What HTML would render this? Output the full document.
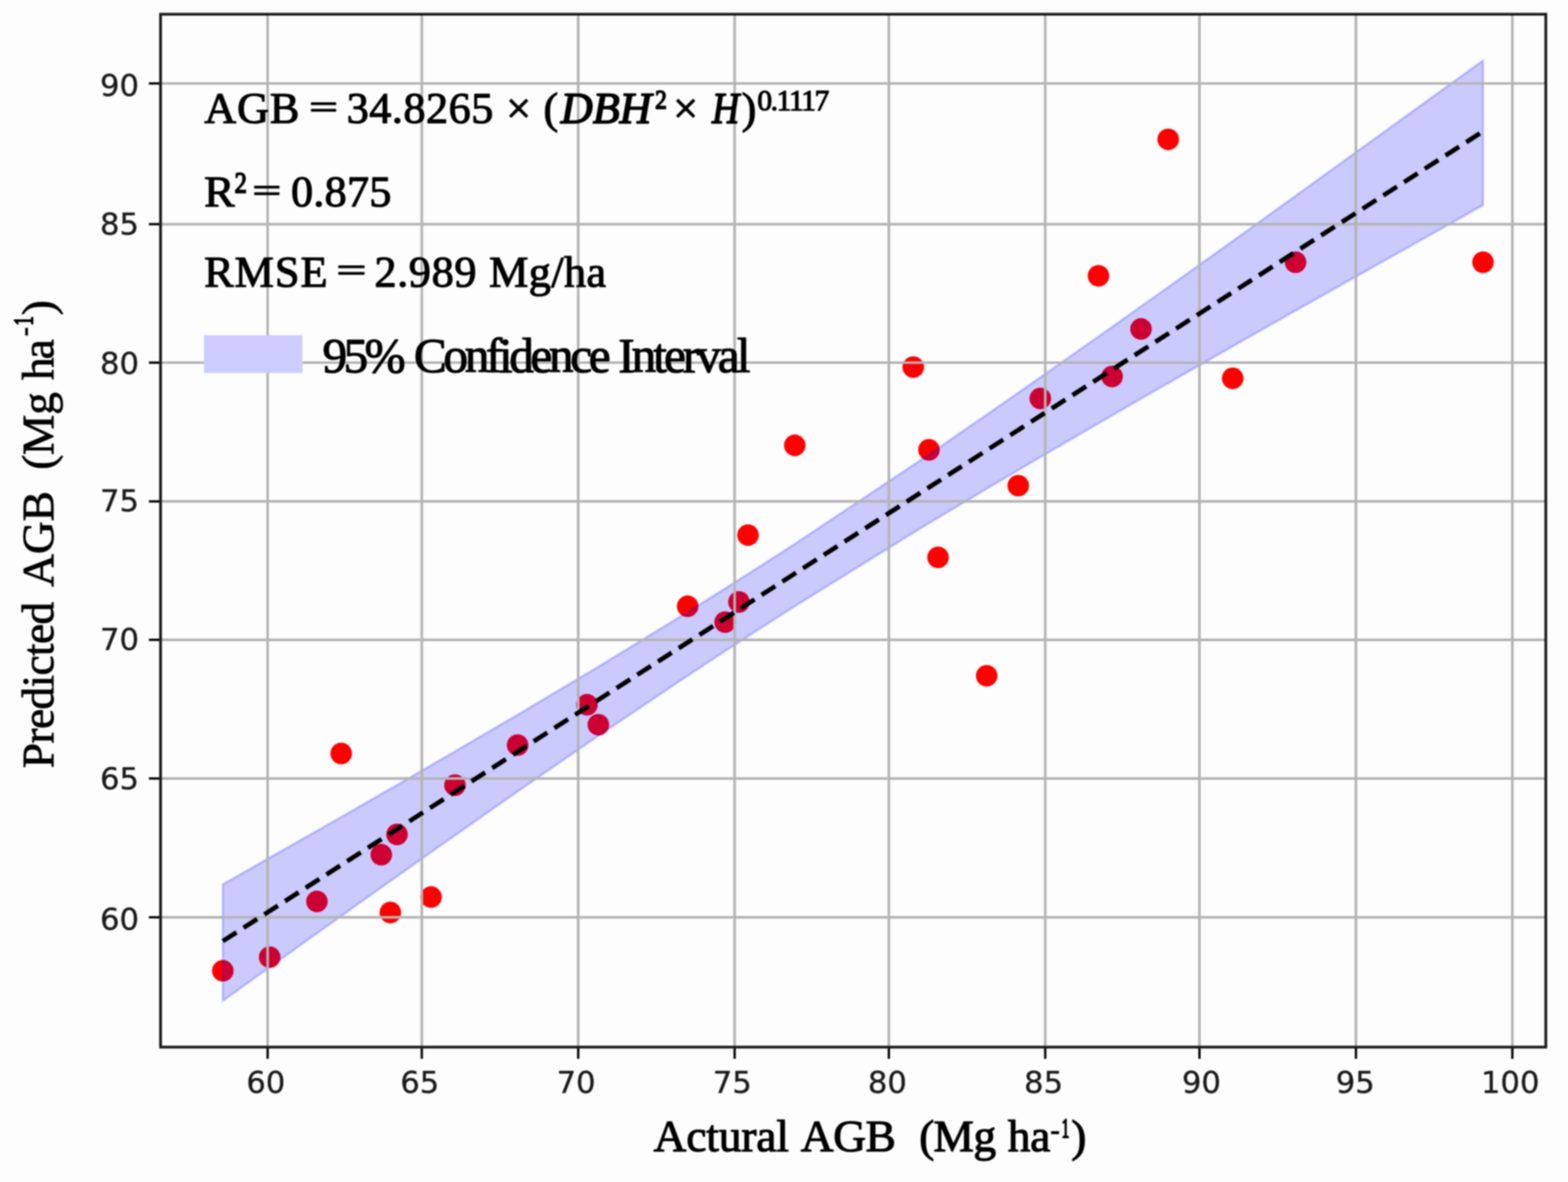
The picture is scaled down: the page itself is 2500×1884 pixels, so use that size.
<!DOCTYPE html>
<html lang="en">
<head>
<meta charset="utf-8">
<title>Predicted vs Actual AGB</title>
<style>
html,body{margin:0;padding:0;background:#fdfdfd;}
body{width:2500px;height:1884px;overflow:hidden;}
svg{display:block;}
.tk{font-family:"DejaVu Sans","Liberation Sans",sans-serif;font-size:48.8px;fill:#1a1a1a;stroke:#1a1a1a;stroke-width:0.5px;}
.sf{font-family:"Liberation Serif","DejaVu Serif",serif;fill:#000;stroke:#000;stroke-width:1.7px;stroke-linejoin:round;}
</style>
</head>
<body>
<svg width="2500" height="1884" viewBox="0 0 2500 1884" style="filter:blur(1.2px)">
<rect x="0" y="0" width="2500" height="1884" fill="#fdfdfd"/>
<g fill="#ff0000">
<circle cx="355.3" cy="1547.3" r="17.20"/>
<circle cx="430.0" cy="1525.6" r="17.20"/>
<circle cx="505.3" cy="1436.8" r="17.20"/>
<circle cx="544.0" cy="1201.0" r="17.20"/>
<circle cx="607.9" cy="1362.3" r="17.20"/>
<circle cx="633.0" cy="1330.0" r="17.20"/>
<circle cx="622.4" cy="1454.5" r="17.20"/>
<circle cx="687.3" cy="1429.8" r="17.20"/>
<circle cx="725.4" cy="1251.5" r="17.20"/>
<circle cx="825.3" cy="1187.6" r="17.20"/>
<circle cx="935.9" cy="1123.3" r="17.20"/>
<circle cx="954.0" cy="1155.2" r="17.20"/>
<circle cx="1096.4" cy="966.3" r="17.20"/>
<circle cx="1156.1" cy="991.6" r="17.20"/>
<circle cx="1178.2" cy="959.5" r="17.20"/>
<circle cx="1192.6" cy="852.9" r="17.20"/>
<circle cx="1267.2" cy="709.8" r="17.20"/>
<circle cx="1456.1" cy="585.2" r="17.20"/>
<circle cx="1481.1" cy="717.0" r="17.20"/>
<circle cx="1495.6" cy="888.4" r="17.20"/>
<circle cx="1573.2" cy="1077.1" r="17.20"/>
<circle cx="1623.5" cy="774.1" r="17.20"/>
<circle cx="1658.7" cy="635.2" r="17.20"/>
<circle cx="1751.4" cy="439.7" r="17.20"/>
<circle cx="1773.1" cy="600.1" r="17.20"/>
<circle cx="1819.2" cy="524.3" r="17.20"/>
<circle cx="1862.6" cy="222.2" r="17.20"/>
<circle cx="1965.4" cy="603.0" r="17.20"/>
<circle cx="2065.6" cy="418.0" r="17.20"/>
<circle cx="2364.5" cy="418.0" r="17.20"/>
</g>
<polygon points="355.3,1409.5 430.0,1367.1 505.3,1324.3 544.0,1302.2 607.9,1265.6 622.4,1257.3 633.0,1251.2 687.3,1219.8 725.4,1197.7 825.3,1139.3 935.9,1073.5 954.0,1062.7 1096.4,975.5 1156.1,938.1 1178.2,924.1 1192.6,914.9 1267.2,866.9 1456.1,741.3 1481.1,724.3 1495.6,714.4 1573.2,661.0 1623.5,626.1 1658.7,601.5 1751.4,536.4 1773.1,521.1 1819.2,488.4 1862.6,457.6 1965.4,384.2 2065.6,312.3 2364.5,96.5 2364.5,326.9 2065.6,495.1 1965.4,551.9 1862.6,610.6 1819.2,635.5 1773.1,662.1 1751.4,674.7 1658.7,728.6 1623.5,749.3 1573.2,779.0 1495.6,825.3 1481.1,834.0 1456.1,849.1 1267.2,966.2 1192.6,1014.0 1178.2,1023.4 1156.1,1037.8 1096.4,1077.0 954.0,1172.8 935.9,1185.2 825.3,1261.5 725.4,1331.5 687.3,1358.3 633.0,1396.7 622.4,1404.2 607.9,1414.5 544.0,1460.0 505.3,1487.6 430.0,1541.6 355.3,1595.2" fill="#0000ff" fill-opacity="0.2" stroke="#0000ff" stroke-opacity="0.2" stroke-width="3.6" stroke-linejoin="miter"/>
<g stroke="#b4b4b4" stroke-width="4.2" fill="none">
<line x1="426.7" y1="22.7" x2="426.7" y2="1669.0"/>
<line x1="672.5" y1="22.7" x2="672.5" y2="1669.0"/>
<line x1="921.9" y1="22.7" x2="921.9" y2="1669.0"/>
<line x1="1171.3" y1="22.7" x2="1171.3" y2="1669.0"/>
<line x1="1417.2" y1="22.7" x2="1417.2" y2="1669.0"/>
<line x1="1666.5" y1="22.7" x2="1666.5" y2="1669.0"/>
<line x1="1912.4" y1="22.7" x2="1912.4" y2="1669.0"/>
<line x1="2161.9" y1="22.7" x2="2161.9" y2="1669.0"/>
<line x1="2411.3" y1="22.7" x2="2411.3" y2="1669.0"/>
<line x1="256.0" y1="133.0" x2="2464.6" y2="133.0"/>
<line x1="256.0" y1="357.3" x2="2464.6" y2="357.3"/>
<line x1="256.0" y1="578.0" x2="2464.6" y2="578.0"/>
<line x1="256.0" y1="799.2" x2="2464.6" y2="799.2"/>
<line x1="256.0" y1="1019.8" x2="2464.6" y2="1019.8"/>
<line x1="256.0" y1="1240.8" x2="2464.6" y2="1240.8"/>
<line x1="256.0" y1="1462.1" x2="2464.6" y2="1462.1"/>
</g>
<line x1="355.3" y1="1500.0" x2="2364.5" y2="209.4" stroke="#000" stroke-width="7.3" stroke-dasharray="25.8 13.47" stroke-dashoffset="0"/>
<g stroke="#000" stroke-width="3.7">
<line x1="426.7" y1="1669.0" x2="426.7" y2="1687.6"/>
<line x1="672.5" y1="1669.0" x2="672.5" y2="1687.6"/>
<line x1="921.9" y1="1669.0" x2="921.9" y2="1687.6"/>
<line x1="1171.3" y1="1669.0" x2="1171.3" y2="1687.6"/>
<line x1="1417.2" y1="1669.0" x2="1417.2" y2="1687.6"/>
<line x1="1666.5" y1="1669.0" x2="1666.5" y2="1687.6"/>
<line x1="1912.4" y1="1669.0" x2="1912.4" y2="1687.6"/>
<line x1="2161.9" y1="1669.0" x2="2161.9" y2="1687.6"/>
<line x1="2411.3" y1="1669.0" x2="2411.3" y2="1687.6"/>
<line x1="237.4" y1="133.0" x2="256.0" y2="133.0"/>
<line x1="237.4" y1="357.3" x2="256.0" y2="357.3"/>
<line x1="237.4" y1="578.0" x2="256.0" y2="578.0"/>
<line x1="237.4" y1="799.2" x2="256.0" y2="799.2"/>
<line x1="237.4" y1="1019.8" x2="256.0" y2="1019.8"/>
<line x1="237.4" y1="1240.8" x2="256.0" y2="1240.8"/>
<line x1="237.4" y1="1462.1" x2="256.0" y2="1462.1"/>
</g>
<rect x="256.0" y="22.7" width="2208.6" height="1646.3" fill="none" stroke="#1a1a1a" stroke-width="4.4"/>
<g class="tk">
<text x="423.8" y="1742.0" text-anchor="middle">60</text>
<text x="669.2" y="1742.0" text-anchor="middle">65</text>
<text x="918.5" y="1742.0" text-anchor="middle">70</text>
<text x="1167.5" y="1742.0" text-anchor="middle">75</text>
<text x="1414.7" y="1742.0" text-anchor="middle">80</text>
<text x="1663.9" y="1742.0" text-anchor="middle">85</text>
<text x="1915.6" y="1742.0" text-anchor="middle">90</text>
<text x="2160.7" y="1742.0" text-anchor="middle">95</text>
<text x="2407.9" y="1742.0" text-anchor="middle">100</text>
<text x="221.6" y="153.0" text-anchor="end">90</text>
<text x="221.6" y="374.3" text-anchor="end">85</text>
<text x="221.6" y="595.5" text-anchor="end">80</text>
<text x="221.6" y="815.4" text-anchor="end">75</text>
<text x="221.6" y="1036.2" text-anchor="end">70</text>
<text x="221.6" y="1258.0" text-anchor="end">65</text>
<text x="221.6" y="1482.2" text-anchor="end">60</text>
</g>
<text class="sf" x="325.8" y="196.3" style="font-size:70.5px;letter-spacing:1.26px;">AGB</text>
<text class="sf" transform="translate(492.9,188.0) scale(1.148,0.745)" x="0" y="0" style="font-size:70.5px;stroke-width:2.4px;">=</text>
<text class="sf" x="552.8" y="196.3" style="font-size:70.5px;letter-spacing:0.76px;">34.8265</text>
<text class="sf" x="807.1" y="196.3" style="font-size:70.5px;">×</text>
<text class="sf" x="866.6" y="196.3" style="font-size:70.5px;">(</text>
<text class="sf" x="894.1" y="196.3" style="font-size:70.5px;font-style:italic;stroke-width:2.3px;letter-spacing:-0.13px;">DBH</text>
<text class="sf" transform="translate(1044.5,173.0) scale(0.867,1)" x="0" y="0" style="font-size:43px;stroke-width:2.4px;">2</text>
<text class="sf" x="1073.3" y="196.3" style="font-size:70.5px;">×</text>
<text class="sf" transform="translate(1135.3,196.3) scale(0.855,1)" x="0" y="0" style="font-size:70.5px;font-style:italic;stroke-width:2.3px;">H</text>
<text class="sf" x="1182.6" y="196.3" style="font-size:70.5px;">)</text>
<text class="sf" x="1207.4" y="176.4" style="font-size:47px;letter-spacing:-2.17px;">0.1117</text>
<text class="sf" transform="translate(325.4,329.2) scale(1.032,1)" x="0" y="0" style="font-size:70.5px;">R</text>
<text class="sf" transform="translate(374.0,306.8) scale(0.837,1)" x="0" y="0" style="font-size:47px;stroke-width:2.4px;">2</text>
<text class="sf" transform="translate(402.4,320.9) scale(1.151,0.745)" x="0" y="0" style="font-size:70.5px;stroke-width:2.4px;">=</text>
<text class="sf" x="464.0" y="329.2" style="font-size:70.5px;letter-spacing:0.37px;">0.875</text>
<text class="sf" x="325.5" y="456.6" style="font-size:70.5px;letter-spacing:1.58px;">RMSE</text>
<text class="sf" transform="translate(536.5,448.3) scale(1.196,0.745)" x="0" y="0" style="font-size:70.5px;stroke-width:2.4px;">=</text>
<text class="sf" x="596.9" y="456.6" style="font-size:70.5px;letter-spacing:1.05px;">2.989</text>
<text class="sf" x="779.8" y="456.6" style="font-size:70.5px;letter-spacing:0.62px;">Mg/ha</text>
<rect x="325.2" y="534.2" width="157.0" height="60.3" fill="#ccccff"/>
<text class="sf" x="514.3" y="593.4" style="font-size:78.5px;letter-spacing:-5.81px;">95%</text>
<text class="sf" x="660.1" y="593.4" style="font-size:78.5px;letter-spacing:-5.38px;">Confidence</text>
<text class="sf" x="985.7" y="593.4" style="font-size:78.5px;letter-spacing:-4.75px;">Interval</text>
<text class="sf" x="1042.1" y="1835.0" style="font-size:72.5px;letter-spacing:-0.28px;">Actural</text>
<text class="sf" x="1276.8" y="1835.0" style="font-size:72.5px;letter-spacing:-0.76px;">AGB</text>
<text class="sf" x="1465.4" y="1835.0" style="font-size:72.5px;">(</text>
<text class="sf" x="1488.2" y="1835.0" style="font-size:72.5px;letter-spacing:-0.65px;">Mg</text>
<text class="sf" x="1606.8" y="1835.0" style="font-size:72.5px;letter-spacing:-0.67px;">ha</text>
<text class="sf" x="1675.1" y="1814.6" style="font-size:43px;">-</text>
<text class="sf" transform="translate(1692.4,1813.2) scale(0.555,1)" x="0" y="0" style="font-size:45px;stroke-width:2.6px;">1</text>
<text class="sf" x="1708.1" y="1835.0" style="font-size:72.5px;">)</text>
<text transform="translate(85.2,0) rotate(-90)" class="sf" x="-1224.4" y="0.0" style="font-size:72.5px;stroke-width:1.1px;letter-spacing:-1.08px;">Predicted</text>
<text transform="translate(85.2,0) rotate(-90)" class="sf" x="-935.5" y="0.0" style="font-size:72.5px;stroke-width:1.1px;letter-spacing:-0.06px;">AGB</text>
<text transform="translate(85.2,0) rotate(-90)" class="sf" x="-748.7" y="0.0" style="font-size:72.5px;stroke-width:1.1px;">(</text>
<text transform="translate(85.2,0) rotate(-90)" class="sf" x="-725.6" y="0.0" style="font-size:72.5px;stroke-width:1.1px;letter-spacing:-0.05px;">Mg</text>
<text transform="translate(85.2,0) rotate(-90)" class="sf" x="-605.8" y="0.0" style="font-size:72.5px;stroke-width:1.1px;letter-spacing:-3.17px;">ha</text>
<text transform="translate(52.2,0) rotate(-90)" class="sf" x="-535.8" y="0.0" style="font-size:43px;stroke-width:1.1px;">-</text>
<text class="sf" transform="translate(52.0,0) rotate(-90) translate(-518.9,0.0) scale(0.664,1)" x="0" y="0" style="font-size:45px;stroke-width:2.4px;">1</text>
<text transform="translate(85.2,0) rotate(-90)" class="sf" x="-502.5" y="0.0" style="font-size:72.5px;stroke-width:1.1px;">)</text>
</svg>
</body>
</html>
